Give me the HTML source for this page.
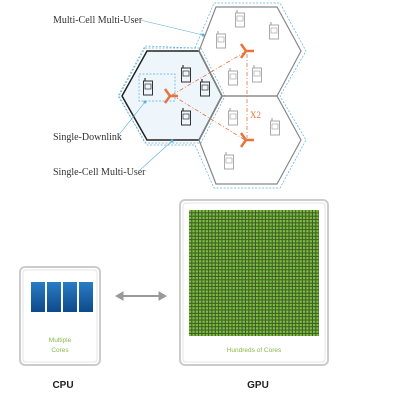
<!DOCTYPE html>
<html><head><style>
body{margin:0;background:#fff}
svg{display:block}
.lbl{font-family:"Liberation Serif",serif;font-size:10px;fill:#333}
.sans{font-family:"Liberation Sans",sans-serif}
</style></head><body>
<svg width="400" height="400" viewBox="0 0 400 400">
<defs>
<pattern id="dots" width="3.35" height="3.35" patternUnits="userSpaceOnUse" x="189" y="210">
<rect width="3.35" height="3.35" fill="#3e5a26"/>
<rect width="2.3" height="2.3" fill="#7cc040"/>
</pattern>
<linearGradient id="blue" x1="0" y1="0" x2="0" y2="1"><stop offset="0" stop-color="#2a7cc4"/><stop offset="1" stop-color="#0d4a8a"/></linearGradient>
<g id="phone"><rect x="-4.5" y="-7" width="9" height="14" fill="none" stroke="currentColor" stroke-width="1"/><rect x="-3" y="-4" width="6" height="5" fill="none" stroke="currentColor" stroke-width="0.7"/><line x1="-3" y1="-7" x2="-3" y2="-10" stroke="currentColor" stroke-width="1.2"/></g>
<g id="ant"><path d="M0,0 L8,0 M0,0 L-5,-7 M0,0 L-5,7" stroke="#e8743b" stroke-width="2.5" fill="none"/></g>
</defs>
<g fill="none" stroke="#5aaee0" stroke-width="0.7" stroke-dasharray="2,1.5">
<path d="M195,48 L214,3 L280,3 L306,51 L280,96 L306,140 L280,188 L214,188 L195,145 L147,145 L118,96 L145,46 Z"/>
</g>
<g fill="none" stroke="#5aaee0" stroke-width="0.7" stroke-dasharray="2,1.5">
<path d="M145,48 L201,48 L225,96 L201,143 L145,143 L119,96 Z"/>
</g>
<path d="M147,51 L199,51 L222,96 L199,140 L147,140 L122,96 Z" fill="#eef6fc" stroke="#222" stroke-width="1.5"/>
<path d="M199,51 L216,7 L277,7 L301,51 L277,96 L222,96 Z" fill="none" stroke="#888" stroke-width="1.2"/>
<path d="M222,96 L277,96 L301,140 L277,184 L216,184 L199,140 Z" fill="none" stroke="#888" stroke-width="1.2"/>
<rect x="139" y="74" width="36" height="27" fill="none" stroke="#5aaee0" stroke-width="0.7" stroke-dasharray="2,1.5"/>
<g stroke="#e8743b" stroke-width="0.8" stroke-dasharray="4,2,1,2" fill="none">
<line x1="172" y1="95" x2="245" y2="52"/><line x1="172" y1="95" x2="245" y2="140"/><line x1="247" y1="54" x2="247" y2="138"/>
</g>
<use href="#ant" x="170" y="96"/>
<use href="#ant" x="246" y="51"/>
<use href="#ant" x="246" y="140"/>
<text x="250" y="118" font-family="Liberation Serif" font-size="9" fill="#e8743b">X2</text>
<g color="#333">
<use href="#phone" x="148" y="88"/><use href="#phone" x="186" y="75"/><use href="#phone" x="205" y="89"/><use href="#phone" x="186" y="118"/>
</g>
<g color="#aaa">
<use href="#phone" x="240" y="20"/><use href="#phone" x="274" y="32"/><use href="#phone" x="221" y="41"/><use href="#phone" x="233" y="78"/><use href="#phone" x="257" y="75"/><use href="#phone" x="233" y="118"/><use href="#phone" x="275" y="128"/><use href="#phone" x="229" y="162"/>
</g>
<g stroke="#5aaee0" stroke-width="0.6" fill="#5aaee0">
<line x1="140" y1="20" x2="203" y2="35"/><circle cx="203" cy="35" r="1.2"/>
<line x1="118" y1="136" x2="145" y2="102"/><circle cx="145" cy="102" r="1.2"/>
<line x1="140" y1="170" x2="172" y2="141"/><circle cx="172" cy="141" r="1.2"/>
</g>
<text class="lbl" x="53" y="23">Multi-Cell Multi-User</text>
<text class="lbl" x="53" y="140">Single-Downlink</text>
<text class="lbl" x="53" y="175">Single-Cell Multi-User</text>
<rect x="20" y="267" width="80" height="98" rx="5" fill="#fff" stroke="#ccc" stroke-width="2"/>
<rect x="23" y="270" width="74" height="92" rx="3" fill="none" stroke="#e4e4e4"/>
<g fill="url(#blue)">
<rect x="31" y="282" width="14" height="30"/><rect x="47" y="282" width="14" height="30"/><rect x="63" y="282" width="14" height="30"/><rect x="79" y="282" width="14" height="30"/>
</g>
<text class="sans" x="60" y="342" font-size="6.5" fill="#8cb84a" text-anchor="middle">Multiple</text>
<text class="sans" x="60" y="352" font-size="6.5" fill="#8cb84a" text-anchor="middle">Cores</text>
<g fill="#999" stroke="#999">
<line x1="120" y1="296" x2="161" y2="296" stroke-width="2"/>
<path d="M116,296 L123,292 L123,300 Z"/><path d="M166,296 L159,292 L159,300 Z"/>
</g>
<rect x="180" y="200" width="148" height="165" rx="5" fill="#fff" stroke="#ccc" stroke-width="2"/>
<rect x="183" y="203" width="142" height="159" rx="3" fill="none" stroke="#e4e4e4"/>
<rect x="189" y="210" width="130" height="126" fill="url(#dots)"/>
<text class="sans" x="254" y="352" font-size="6.5" fill="#8cb84a" text-anchor="middle">Hundreds of Cores</text>
<text class="sans" x="63" y="388" font-size="10" font-weight="bold" fill="#222" text-anchor="middle">CPU</text>
<text class="sans" x="258" y="388" font-size="10" font-weight="bold" fill="#222" text-anchor="middle">GPU</text>
</svg>
</body></html>
